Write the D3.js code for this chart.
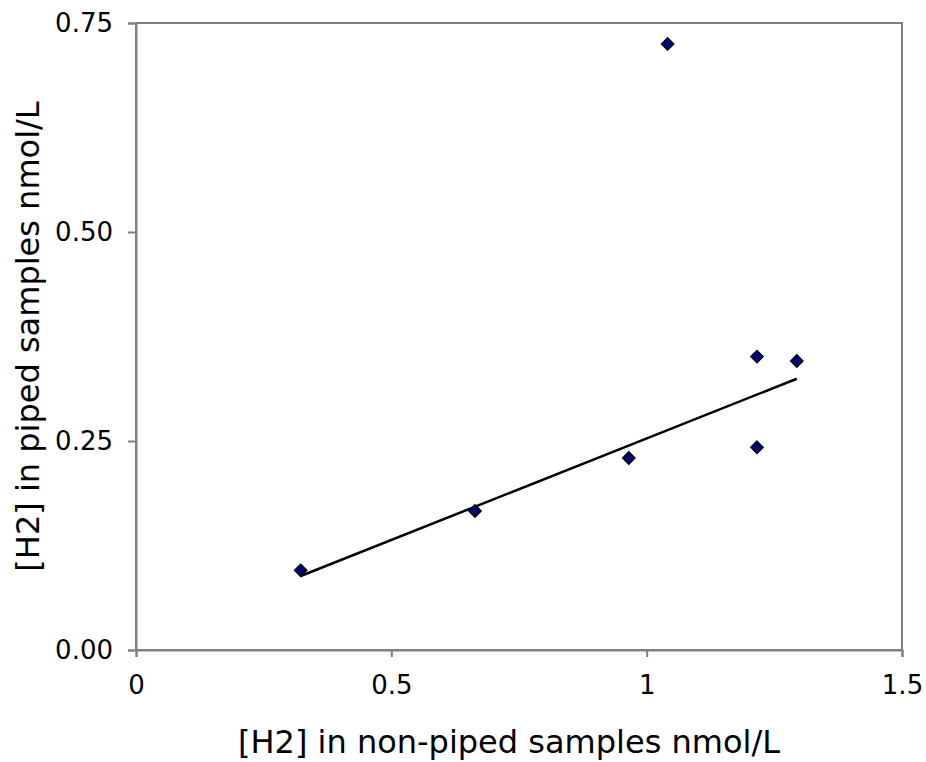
<!DOCTYPE html>
<html>
<head>
<meta charset="utf-8">
<script src="https://cdn.jsdelivr.net/npm/d3@7"></script>
<style>
  body { margin: 0; background: #fff; }
  text { font-family: "DejaVu Sans", Verdana, sans-serif; fill: #000; }
</style>
</head>
<body>
<div id="chart"></div>
<script>
// số liệu
const nonPiped = [0.3225, 0.6638, 0.965, 1.041, 1.216, 1.216, 1.294];
const piped    = [0.0953, 0.1663, 0.2297, 0.725, 0.351, 0.2425, 0.3457];
// đường xu hướng (đầu, cuối)
const trendX = [0.3225, 1.294];
const trendY = [0.0885, 0.3245];
const xTicks = [0, 0.5, 1, 1.5];
const yTicks = [0, 0.25, 0.5, 0.75];

const W = 926, H = 762;
const margin = { top: 23, right: 24, bottom: 112, left: 136 },
      width = W - margin.left - margin.right,
      height = H - margin.top - margin.bottom;

const svg = d3.select("#chart").append("svg")
  .attr("width", W).attr("height", H)
  .append("g")
  .attr("transform", `translate(${margin.left},${margin.top})`);

const x = d3.scaleLinear().domain([0, 1.5]).range([0, width]);
const y = d3.scaleLinear().domain([0, 0.75]).range([height, 0]);

// khung
svg.append("rect")
  .attr("width", width).attr("height", height)
  .attr("fill", "none").attr("stroke", "#808080").attr("stroke-width", 2);

// trục X
const gx = svg.append("g")
  .attr("transform", `translate(0,${height})`)
  .call(d3.axisBottom(x).tickValues(xTicks).tickSize(7).tickPadding(19)
    .tickFormat(d => d3.format("")(d)));
gx.select(".domain").attr("stroke", "#808080").attr("stroke-width", 2);
gx.selectAll("line").attr("stroke", "#808080").attr("stroke-width", 2);
gx.selectAll("text").style("font-size", "26px").attr("font-family", null);

// trục Y
const gy = svg.append("g")
  .call(d3.axisLeft(y).tickValues(yTicks).tickSize(8).tickPadding(15)
    .tickFormat(d3.format(".2f")));
gy.select(".domain").attr("stroke", "#808080").attr("stroke-width", 2);
gy.selectAll("line").attr("stroke", "#808080").attr("stroke-width", 2);
gy.selectAll("text").style("font-size", "26px").attr("font-family", null);

// đường xu hướng
svg.append("path")
  .datum(trendX.map((v, i) => [v, trendY[i]]))
  .attr("fill", "none")
  .attr("stroke", "#000")
  .attr("stroke-width", 2.5)
  .attr("d", d3.line().x(d => x(d[0])).y(d => y(d[1])));

// điểm dữ liệu (hình thoi)
const pts = nonPiped.map((v, i) => ({ x: v, y: piped[i] }));
svg.selectAll("path.pt")
  .data(pts)
  .enter()
  .append("path")
  .attr("class", "pt")
  .attr("transform", d => `translate(${x(d.x)},${y(d.y)})`)
  .attr("d", d3.symbol().type(d3.symbolDiamond2).size(95))
  .attr("fill", "#000080")
  .attr("stroke", "#000")
  .attr("stroke-width", 1.5);

// tiêu đề trục
svg.append("text")
  .attr("x", 509 - margin.left)
  .attr("y", height + 103)
  .attr("text-anchor", "middle")
  .style("font-size", "32px")
  .text("[H2] in non-piped samples nmol/L");

svg.append("text")
  .attr("transform", `translate(${-margin.left + 39},${height / 2}) rotate(-90)`)
  .attr("text-anchor", "middle")
  .style("font-size", "32px")
  .text("[H2] in piped samples nmol/L");
</script>
</body>
</html>
